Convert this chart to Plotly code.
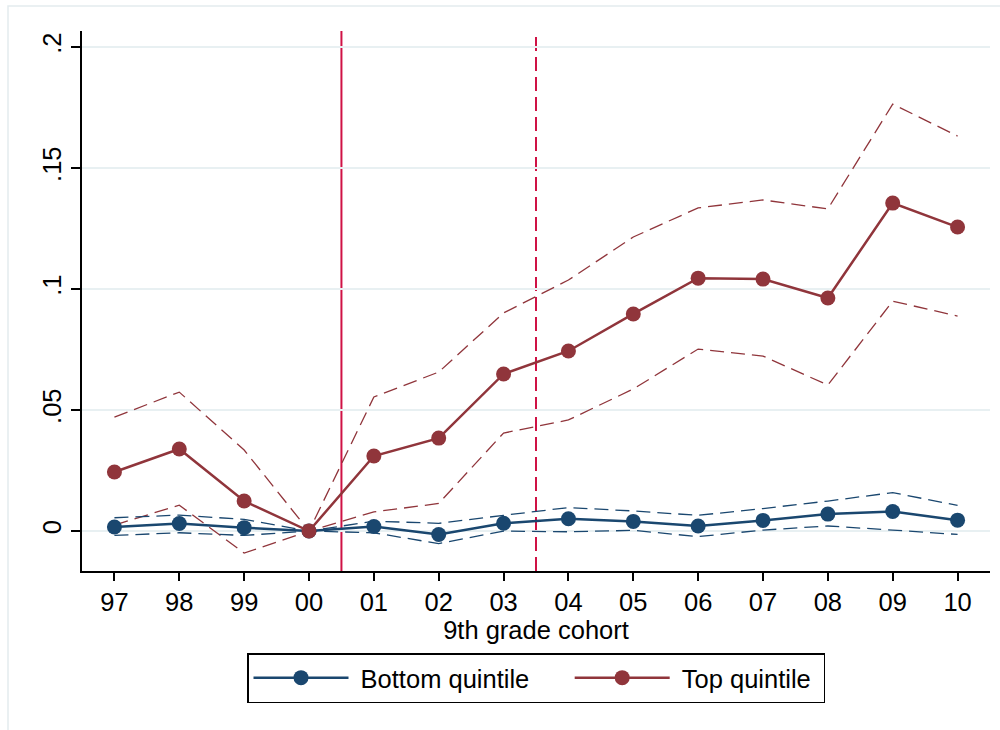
import plotly.graph_objects as go

# Cohort labels (9th grade cohort, 1997-2010)
cohorts = ["97", "98", "99", "00", "01", "02", "03", "04", "05", "06", "07", "08", "09", "10"]

# Top quintile: point estimates and 95% confidence bounds
top_est = [0.0244, 0.0339, 0.0124, 0.0, 0.0310, 0.0384, 0.0649, 0.0744, 0.0897, 0.1045, 0.1041, 0.0963, 0.1355, 0.1256]
top_hi = [0.0471, 0.0574, 0.0335, 0.0, 0.0554, 0.0657, 0.0901, 0.1037, 0.1215, 0.1335, 0.1368, 0.1331, 0.1764, 0.1632]
top_lo = [0.0025, 0.0107, -0.0091, 0.0, 0.0079, 0.0114, 0.0405, 0.0459, 0.0587, 0.0752, 0.0723, 0.0603, 0.0950, 0.0888]

# Bottom quintile: point estimates and 95% confidence bounds
bot_est = [0.0017, 0.0031, 0.0014, 0.0, 0.0019, -0.0014, 0.0032, 0.0051, 0.0040, 0.0021, 0.0044, 0.0070, 0.0081, 0.0045]
bot_hi = [0.0055, 0.0066, 0.0048, 0.0, 0.0041, 0.0032, 0.0065, 0.0097, 0.0083, 0.0065, 0.0093, 0.0124, 0.0159, 0.0106]
bot_lo = [-0.0018, -0.0007, -0.0018, 0.0, -0.0007, -0.0052, 0.0000, -0.0003, 0.0003, -0.0023, 0.0004, 0.0021, 0.0004, -0.0014]

# Reform timing markers (between cohorts)
solid_break = 3.5
dashed_break = 6.5

y_ticks = [0, 0.05, 0.1, 0.15, 0.2]
y_tick_text = ["0", ".05", ".1", ".15", ".2"]

NAVY = "#1a476f"
MAROON = "#90353b"
CRIMSON = "#cf1245"

NBSP = "\u00a0"

x = list(range(len(cohorts)))
fig = go.Figure()

ci_dash = "14px,7px"
for vals, col in [(top_hi, MAROON), (top_lo, MAROON), (bot_hi, NAVY), (bot_lo, NAVY)]:
    fig.add_trace(go.Scatter(x=x, y=vals, mode="lines", showlegend=False, hoverinfo="skip",
                             line=dict(color=col, width=1.3, dash=ci_dash)))

# Legend labels padded with non-breaking spaces for spacing between entries
fig.add_trace(go.Scatter(x=x, y=bot_est, mode="lines+markers",
                         name=NBSP + "Bottom quintile" + NBSP * 5,
                         line=dict(color=NAVY, width=2.5), marker=dict(color=NAVY, size=15)))
fig.add_trace(go.Scatter(x=x, y=top_est, mode="lines+markers",
                         name=NBSP + "Top quintile" + NBSP,
                         line=dict(color=MAROON, width=2.5), marker=dict(color=MAROON, size=15)))

# Vertical reference lines
fig.add_shape(type="line", xref="x", yref="paper", x0=solid_break, x1=solid_break, y0=0, y1=1,
              line=dict(color=CRIMSON, width=2), layer="between")
fig.add_shape(type="line", xref="x", yref="paper", x0=dashed_break, x1=dashed_break, y0=0, y1=1,
              line=dict(color=CRIMSON, width=2, dash="14px,6px"), layer="between")

# Zero reference line
fig.add_shape(type="line", xref="paper", yref="y", x0=0, x1=1, y0=0, y1=0,
              line=dict(color="black", width=1.5), layer="between")

# Outer graph-region border
W, H = 1000, 730
ml, mr, mt, mb = 82, 10, 31, 159
pw, ph = W - ml - mr, H - mt - mb
fig.add_shape(type="rect", xref="paper", yref="paper",
              x0=(8 - ml) / pw, x1=(1010 - ml) / pw,
              y0=-(740 - mt - ph) / ph, y1=1 + (mt - 6) / ph,
              line=dict(color="#e3ebee", width=1.5), fillcolor="rgba(0,0,0,0)", layer="below")

font = dict(family="Liberation Sans, Arial, sans-serif", size=25.5, color="black")

fig.update_layout(
    width=W, height=H,
    margin=dict(l=ml, r=mr, t=mt, b=mb),
    paper_bgcolor="white", plot_bgcolor="white",
    font=font,
    xaxis=dict(
        range=[-0.5, 13.5], tickmode="array", tickvals=x, ticktext=cohorts,
        showgrid=False, zeroline=False, showline=True, linecolor="black", linewidth=1.5,
        ticks="outside", ticklen=8, tickwidth=1.5, tickcolor="black",
        title=dict(text="9th grade cohort", standoff=4, font=font),
    ),
    yaxis=dict(
        range=[-0.0165, 0.2066], tickmode="array", tickvals=y_ticks, ticktext=y_tick_text,
        tickangle=-90, showgrid=True, gridcolor="#e8f0f2", gridwidth=1.5,
        zeroline=False, showline=True, linecolor="black", linewidth=1.5,
        ticks="outside", ticklen=9, tickwidth=1.5, tickcolor="black",
    ),
    legend=dict(
        orientation="h", x=0.5, xanchor="center", y=-0.152, yanchor="top",
        bordercolor="black", borderwidth=1.5, bgcolor="white",
        itemwidth=95, font=font, traceorder="normal",
    ),
)

fig.write_html("out.html")
